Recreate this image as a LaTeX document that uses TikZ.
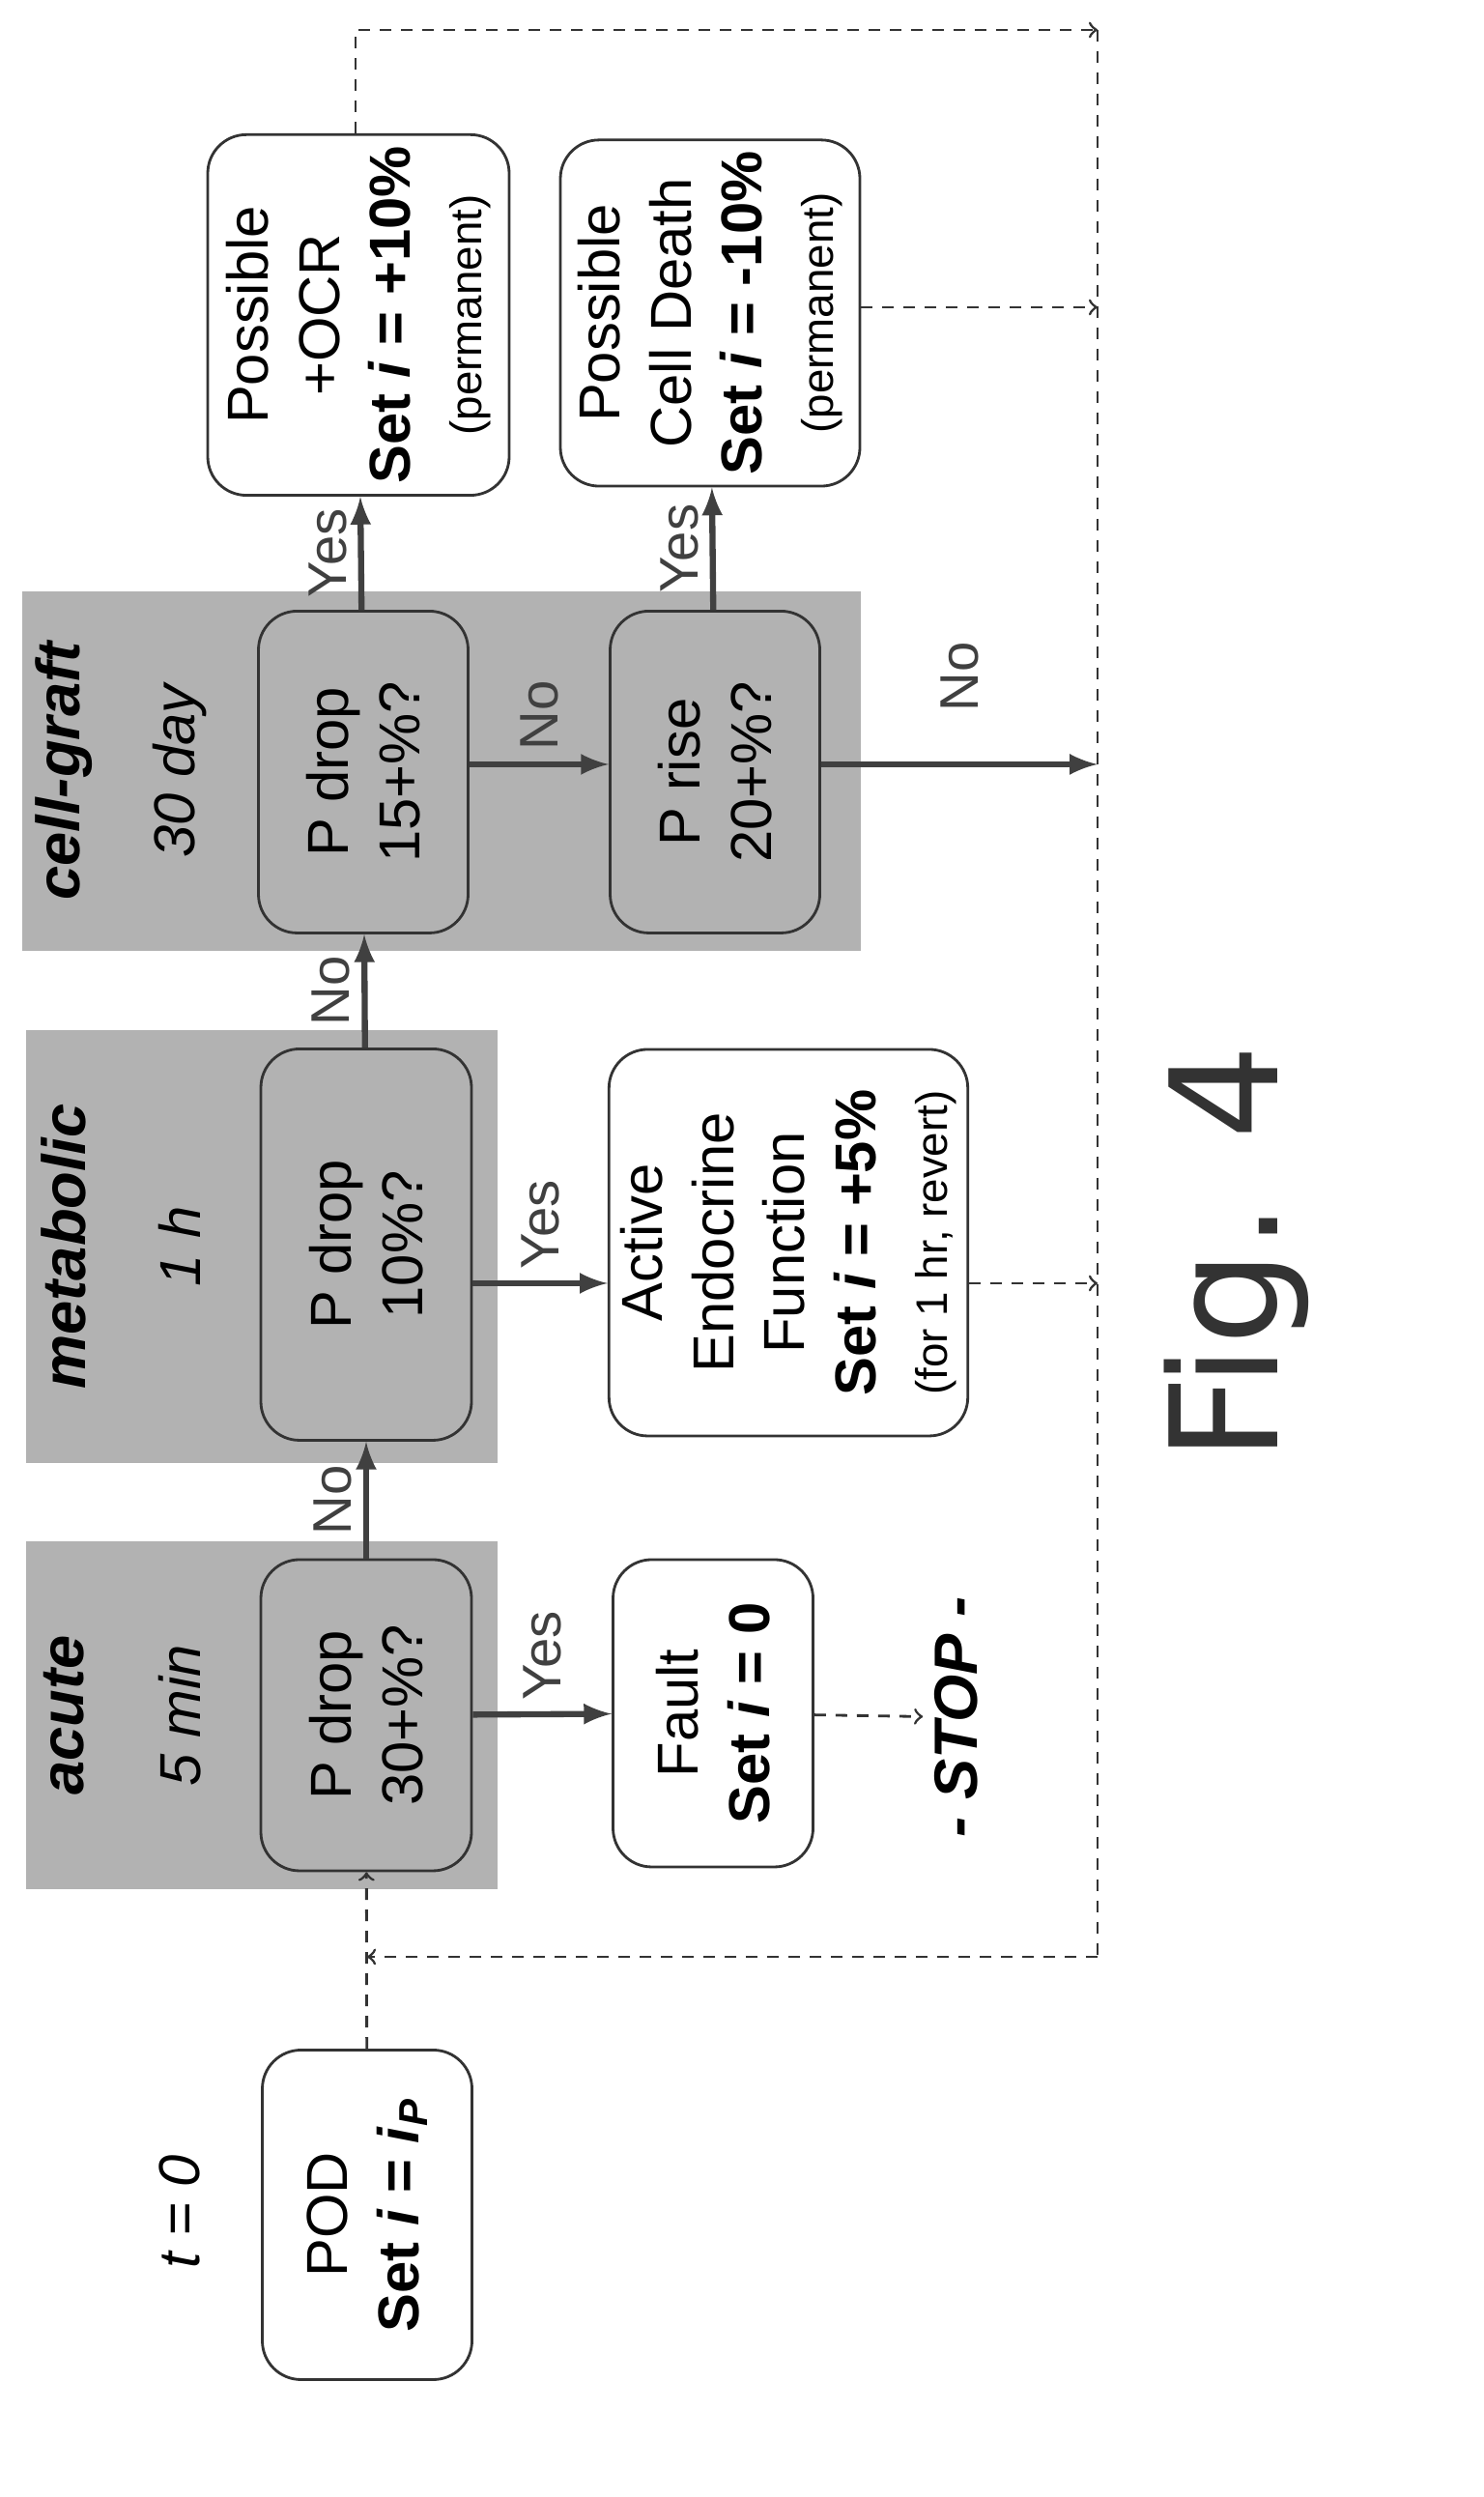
\documentclass[tikz,border=0pt]{standalone}
\usepackage{fontspec}
\setmainfont{Liberation Sans}
\newfontfamily\figfont{DejaVu Sans}
\usetikzlibrary{arrows,positioning,shapes}

\begin{document}
\begin{tikzpicture}
  \useasboundingbox (0,0) rectangle (15.35,25.84);
  \begin{scope}[x=0.1mm,y=0.1mm,rotate=90,transform shape]
  %% STYLES
  \tikzstyle{every node}=[font=\fontsize{17}{21}\selectfont,align=center]
  \tikzstyle{phase}=[fill=black!30,draw=none,inner sep=0pt]
  \tikzstyle{test}=[draw=black!80,thick,rounded corners=4mm,fill=black!30]
  \tikzstyle{result}=[draw=black!80,thick,rounded corners=4mm,fill=white]
  \tikzstyle{flow}=[->,>=latex,line width=1.8pt,black!75]
  \tikzstyle{back}=[->,>=to,dash pattern=on 1.2mm off 1mm,thick,black!80]
  \tikzstyle{tag}=[font=\fontsize{16}{18}\selectfont,fill=none]
  \newcommand{\sml}{\fontsize{13}{15}\selectfont}

  % bandes de phase
  \node[phase,minimum width=3.6cm,minimum height=4.88cm] (Sa) at (809,-271) {};
  \node[phase,minimum width=4.48cm,minimum height=4.88cm] (Sm) at (1294,-271) {};
  \node[phase,minimum width=3.72cm,minimum height=8.68cm] (Sc) at (1786,-457) {};
  \foreach \x/\name/\dt in {809/acute/5 min, 1294/metabolic/1 h, 1786/cell-graft/30 day}{
    \node[font=\fontsize{18}{20}\selectfont\bfseries\itshape] at (\x,-66) {\name};
    \node[font=\fontsize{17}{20}\selectfont\itshape] at (\x,-186) {\dt};
  }

  % noeuds
  \node[font=\fontsize{17}{20}\selectfont\itshape] (t0) at (295,-186) {t = 0};
  \node[result,minimum width=3.41cm,minimum height=2.17cm] (POD) at (292,-380)
    {POD\\\textbf{Set \textit{i} = \textit{i}\textsubscript{\textit{P}}}};
  \node[test,minimum width=3.22cm,minimum height=2.18cm] (T1) at (809,-379) {P drop\\30+\%?};
  \node[result,minimum width=3.18cm,minimum height=2.07cm] (F) at (811,-738)
    {Fault\\\textbf{Set \textit{i} = 0}};
  \node[font=\fontsize{18}{20}\selectfont\bfseries\itshape] (stop) at (807,-990) {- STOP -};
  \node[test,minimum width=4.05cm,minimum height=2.18cm] (T2) at (1296,-379) {P drop\\10\%?};
  \node[result,minimum width=4cm,minimum height=3.6cm] (E) at (1298,-816)
    {Active\\Endocrine\\Function\\\textbf{Set \textit{i} = +5\%}\\{\sml(for 1 hr, revert)}};
  \node[test,minimum width=3.33cm,minimum height=2.17cm] (T3) at (1785,-376) {P drop\\15+\%?};
  \node[test,minimum width=3.33cm,minimum height=2.17cm] (T4) at (1785,-740) {P rise\\20+\%?};
  \node[result,minimum width=3.25cm,minimum height=3.12cm] (O) at (2258,-371)
    {Possible\\+OCR\\\textbf{Set \textit{i} = +10\%}\\{\sml(permanent)}};
  \node[result,minimum width=3.3cm,minimum height=3.1cm] (D) at (2260,-735)
    {Possible\\Cell Death\\\textbf{Set \textit{i} = -10\%}\\{\sml(permanent)}};
  \node[font=\fontsize{44}{44}\selectfont\figfont,text=black!80] (fig) at (1287,-1280) {Fig. 4};

  % ligne de retour
  \coordinate (R0) at (2553,-368);
  \coordinate (R1) at (2553,-1136);
  \coordinate (R2) at (559,-1136);
  \coordinate (R3) at (559,-380);
  \coordinate (Re) at (1256,-1136);
  \coordinate (Rd) at (2266,-1136);
  \coordinate (Rr) at (1793,-1136);
  \draw[back] (O.east |- R0) -- (R0) -- (R1);
  \draw[dash pattern=on 1.2mm off 1mm,thick,black!80] (R1) -- (R2);
  \draw[back] (R2) -- (R3);
  \draw[back] (POD) -- (T1);
  \draw[back] (F) -- (stop);
  \draw[back] (E.south -| Re) -- (Re);
  \draw[back] (D.south -| Rd) -- (Rd);

  % fleches
  \draw[flow] (T1) -- node[tag,right] {Yes} (F);
  \draw[flow] (T1) -- node[tag,above] {No} (T2);
  \draw[flow] (T2.south -| Re) -- node[tag,right] {Yes} (E.north -| Re);
  \draw[flow] (T2) -- node[tag,above] {No} (T3);
  \draw[flow] (T3.south -| Rr) -- node[tag,right] {No} (T4.north -| Rr);
  \draw[flow] (T4.south -| Rr) -- node[tag,right=4mm] {No} (Rr);
  \draw[flow] (T3) -- node[tag,above] {Yes} (O);
  \draw[flow] (T4) -- node[tag,above] {Yes} (D);
  \end{scope}
\end{tikzpicture}
\end{document}
